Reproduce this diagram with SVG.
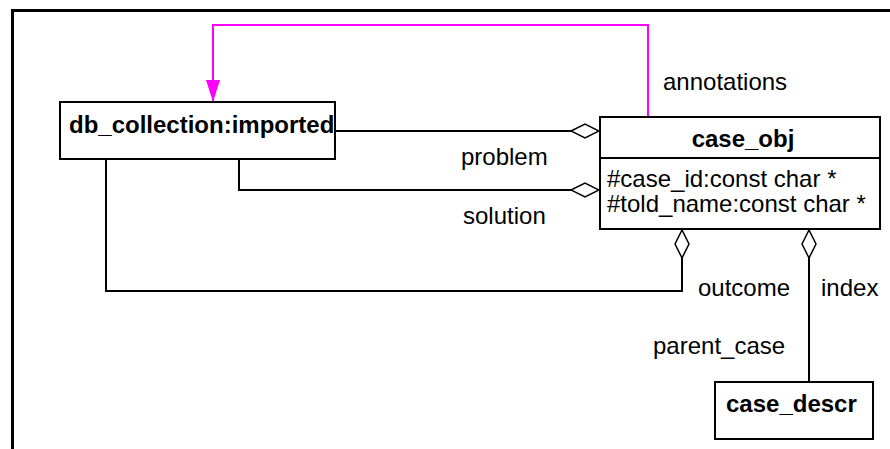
<svg xmlns="http://www.w3.org/2000/svg" width="890" height="449" viewBox="0 0 890 449">
  <style>
    .box { fill: #ffffff; stroke: #000000; stroke-width: 2; }
    .title { font-family: "Liberation Sans", Arial, sans-serif; font-size: 24px; font-weight: bold; fill: #000000; }
    .attr { font-family: "Liberation Sans", Arial, sans-serif; font-size: 24px; fill: #000000; }
    .label { font-family: "Liberation Sans", Arial, sans-serif; font-size: 24px; fill: #000000; }
    .assoc { fill: none; stroke: #000000; stroke-width: 2; }
    .dep { fill: none; stroke: #ff00ff; stroke-width: 2; }
  </style>
  <defs>
    <marker id="diamond" markerUnits="userSpaceOnUse" viewBox="-1 -1 30 16" markerWidth="30" markerHeight="16" refX="28" refY="7" orient="auto">
      <path d="M0 7 L14 0 L28 7 L14 14 Z" fill="#ffffff" stroke="#000000" stroke-width="1.5"/>
    </marker>
    <marker id="arrow" markerUnits="userSpaceOnUse" viewBox="0 0 22 14" markerWidth="22" markerHeight="14" refX="22" refY="7" orient="auto">
      <path d="M0 0 L22 7 L0 14 Z" fill="#ff00ff"/>
    </marker>
  </defs>

  <!-- frame -->
  <path d="M12.5 449 V10.5 H890" fill="none" stroke="#000000" stroke-width="3"/>

  <!-- connectors -->
  <g id="connectors">
    <path class="dep" d="M648 117 V25 H213 V102" marker-end="url(#arrow)"/>
    <path class="assoc" d="M335 131 H599" marker-end="url(#diamond)"/>
    <path class="assoc" d="M239 159 V190 H599" marker-end="url(#diamond)"/>
    <path class="assoc" d="M106 159 V291 H682 V230" marker-end="url(#diamond)"/>
    <path class="assoc" d="M809 382 V230" marker-end="url(#diamond)"/>
    <text class="label" x="663" y="90">annotations</text>
    <text class="label" x="461" y="165">problem</text>
    <text class="label" x="463" y="224">solution</text>
    <text class="label" x="698" y="296">outcome</text>
    <text class="label" x="821" y="296">index</text>
    <text class="label" x="653" y="354">parent_case</text>
  </g>

  <!-- classes -->
  <g id="db_collection">
    <rect class="box" x="60" y="102" width="275" height="57"/>
    <text class="title" x="69" y="133">db_collection:imported</text>
  </g>

  <g id="case_obj">
    <rect class="box" x="600" y="117" width="280" height="112"/>
    <line x1="600" y1="158" x2="880" y2="158" stroke="#000000" stroke-width="2"/>
    <text class="title" x="743" y="147" text-anchor="middle">case_obj</text>
    <text class="attr" x="607" y="187">#case_id:const char *</text>
    <text class="attr" x="607" y="212">#told_name:const char *</text>
  </g>

  <g id="case_descr">
    <rect class="box" x="715" y="382" width="158" height="57"/>
    <text class="title" x="726" y="412">case_descr</text>
  </g>
</svg>
